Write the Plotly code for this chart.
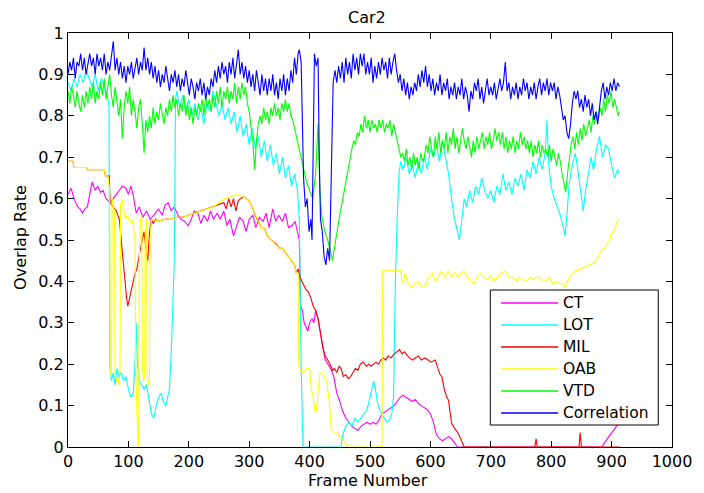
import plotly.graph_objects as go

# Tracker names and their line colours (drawing order = list order)
series_names = ["CT", "LOT", "MIL", "OAB", "VTD", "Correlation"]
series_colors = ["#ff00ff", "#00ffff", "#ff0000", "#ffff00", "#00ff00", "#0000ff"]

# (frame, overlap rate) samples per tracker
ct_points = [
    (0, 0.61), (5, 0.625), (10, 0.60), (16, 0.58), (20, 0.575), (24, 0.565), (28, 0.575), (32, 0.58),
    (36, 0.61), (40, 0.64), (45, 0.62), (49, 0.63), (54, 0.615), (58, 0.62), (63, 0.60), (70, 0.59),
    (75, 0.60), (80, 0.61), (85, 0.62), (90, 0.63), (96, 0.625), (100, 0.61), (104, 0.63), (107, 0.615),
    (110, 0.59), (113, 0.565), (118, 0.58), (124, 0.555), (130, 0.57), (136, 0.55), (142, 0.56),
    (150, 0.575), (156, 0.56), (161, 0.585), (166, 0.59), (171, 0.57), (176, 0.58), (182, 0.56),
    (187, 0.55), (193, 0.545), (199, 0.535), (204, 0.55), (209, 0.57), (215, 0.565), (220, 0.54),
    (225, 0.56), (231, 0.545), (236, 0.57), (241, 0.55), (247, 0.565), (252, 0.55), (258, 0.57),
    (263, 0.535), (268, 0.55), (274, 0.51), (279, 0.53), (284, 0.555), (290, 0.545), (295, 0.52),
    (300, 0.55), (306, 0.56), (311, 0.53), (317, 0.555), (323, 0.545), (328, 0.565), (333, 0.53),
    (339, 0.575), (344, 0.545), (349, 0.56), (355, 0.545), (360, 0.565), (365, 0.53), (371, 0.535),
    (376, 0.545), (380, 0.52), (383, 0.50), (385, 0.34), (388, 0.33), (391, 0.30), (394, 0.29),
    (397, 0.28), (400, 0.30), (404, 0.31), (407, 0.30), (410, 0.33), (414, 0.31), (418, 0.27),
    (422, 0.24), (426, 0.21), (430, 0.20), (435, 0.19), (440, 0.17), (445, 0.13), (450, 0.11),
    (455, 0.085), (460, 0.07), (465, 0.06), (470, 0.05), (475, 0.045), (480, 0.04), (485, 0.05),
    (490, 0.055), (495, 0.06), (500, 0.055), (505, 0.06), (510, 0.055), (515, 0.065), (520, 0.08),
    (525, 0.085), (530, 0.09), (535, 0.095), (540, 0.10), (545, 0.11), (550, 0.12), (555, 0.125),
    (560, 0.12), (565, 0.115), (570, 0.11), (575, 0.115), (580, 0.105), (585, 0.10), (590, 0.095),
    (595, 0.09), (600, 0.08), (605, 0.06), (610, 0.03), (615, 0.02), (620, 0.015), (625, 0.02),
    (630, 0.025), (635, 0.02), (640, 0.01), (645, 0.0), (700, 0.0), (800, 0.0), (884, 0.0),
    (888, 0.01), (893, 0.02), (898, 0.03), (903, 0.04), (908, 0.05), (913, 0.06),
]

lot_points = [
    (0, 0.88), (5, 0.86), (10, 0.89), (15, 0.87), (20, 0.90), (25, 0.88), (30, 0.91), (35, 0.89),
    (40, 0.87), (45, 0.90), (50, 0.86), (55, 0.89), (60, 0.87), (65, 0.85), (68, 0.82), (69, 0.20),
    (72, 0.16), (75, 0.18), (78, 0.15), (81, 0.19), (84, 0.17), (88, 0.18), (92, 0.16), (96, 0.17),
    (100, 0.14), (104, 0.12), (108, 0.13), (111, 0.20), (113, 0.30), (115, 0.20), (118, 0.16),
    (122, 0.15), (126, 0.14), (130, 0.15), (134, 0.11), (138, 0.08), (142, 0.07), (146, 0.10),
    (150, 0.12), (154, 0.13), (158, 0.11), (162, 0.10), (165, 0.12), (168, 0.14), (171, 0.23),
    (174, 0.35), (176, 0.45), (178, 0.84), (180, 0.86), (185, 0.82), (190, 0.85), (195, 0.81),
    (200, 0.84), (205, 0.80), (210, 0.83), (215, 0.79), (220, 0.82), (225, 0.78), (230, 0.83),
    (235, 0.81), (240, 0.86), (245, 0.83), (250, 0.80), (255, 0.83), (260, 0.79), (265, 0.82),
    (270, 0.78), (275, 0.81), (280, 0.76), (285, 0.80), (290, 0.75), (295, 0.78), (300, 0.73),
    (305, 0.77), (310, 0.72), (315, 0.75), (320, 0.70), (325, 0.74), (330, 0.69), (335, 0.73),
    (340, 0.68), (345, 0.71), (350, 0.66), (355, 0.70), (360, 0.65), (365, 0.68), (370, 0.63),
    (375, 0.66), (380, 0.62), (383, 0.55), (386, 0.20), (389, 0.0), (420, 0.0), (452, 0.0),
    (455, 0.03), (460, 0.05), (465, 0.06), (470, 0.05), (475, 0.07), (480, 0.06), (485, 0.07),
    (490, 0.08), (495, 0.09), (500, 0.12), (503, 0.14), (506, 0.16), (509, 0.14), (512, 0.11),
    (516, 0.09), (520, 0.08), (524, 0.07), (528, 0.06), (532, 0.065), (536, 0.08), (539, 0.12),
    (542, 0.40), (545, 0.55), (548, 0.66), (551, 0.69), (555, 0.67), (560, 0.70), (565, 0.66),
    (570, 0.68), (575, 0.65), (580, 0.69), (585, 0.66), (590, 0.70), (595, 0.67), (600, 0.72),
    (605, 0.70), (610, 0.73), (615, 0.69), (620, 0.74), (625, 0.70), (630, 0.66), (635, 0.60),
    (640, 0.55), (645, 0.52), (648, 0.50), (652, 0.55), (656, 0.60), (660, 0.58), (665, 0.62),
    (670, 0.59), (675, 0.63), (680, 0.61), (685, 0.65), (690, 0.62), (695, 0.60), (700, 0.62),
    (705, 0.59), (710, 0.63), (715, 0.61), (720, 0.66), (725, 0.62), (730, 0.64), (735, 0.61),
    (740, 0.65), (745, 0.63), (750, 0.66), (755, 0.62), (760, 0.67), (765, 0.65), (770, 0.69),
    (775, 0.66), (780, 0.70), (785, 0.67), (790, 0.71), (793, 0.79), (796, 0.68), (800, 0.63),
    (805, 0.60), (810, 0.58), (815, 0.56), (820, 0.53), (823, 0.51), (826, 0.56), (830, 0.64),
    (835, 0.68), (840, 0.71), (845, 0.66), (850, 0.60), (853, 0.57), (857, 0.62), (862, 0.66),
    (866, 0.70), (870, 0.67), (875, 0.72), (880, 0.75), (885, 0.70), (890, 0.73), (895, 0.72),
    (900, 0.68), (905, 0.65), (910, 0.67), (913, 0.66),
]

mil_points = [
    (0, 0.69), (8, 0.69), (10, 0.675), (30, 0.675), (32, 0.67), (60, 0.67), (62, 0.655),
    (68, 0.655), (70, 0.59), (75, 0.58), (80, 0.57), (85, 0.55), (88, 0.50), (91, 0.44), (94, 0.40),
    (97, 0.36), (99, 0.34), (102, 0.36), (105, 0.38), (108, 0.40), (111, 0.42), (114, 0.43),
    (117, 0.46), (120, 0.48), (123, 0.50), (126, 0.52), (129, 0.48), (132, 0.45), (135, 0.52),
    (138, 0.55), (141, 0.54), (145, 0.55), (150, 0.545), (160, 0.55), (170, 0.55), (180, 0.555),
    (190, 0.555), (200, 0.56), (210, 0.565), (220, 0.57), (230, 0.575), (240, 0.58), (250, 0.585),
    (258, 0.59), (262, 0.575), (266, 0.60), (270, 0.58), (274, 0.60), (278, 0.57), (282, 0.595),
    (286, 0.60), (290, 0.605), (300, 0.595), (305, 0.58), (310, 0.56), (315, 0.545), (320, 0.53),
    (325, 0.53), (330, 0.51), (340, 0.495), (345, 0.49), (350, 0.48), (355, 0.48), (360, 0.47),
    (365, 0.46), (370, 0.45), (375, 0.44), (378, 0.42), (381, 0.43), (384, 0.41), (387, 0.40),
    (390, 0.39), (394, 0.38), (398, 0.375), (402, 0.36), (406, 0.34), (410, 0.33), (414, 0.31),
    (418, 0.27), (422, 0.24), (426, 0.22), (430, 0.21), (434, 0.20), (438, 0.185), (441, 0.19),
    (445, 0.18), (449, 0.195), (452, 0.19), (456, 0.17), (460, 0.175), (464, 0.165), (468, 0.17),
    (472, 0.18), (476, 0.19), (480, 0.185), (484, 0.20), (489, 0.205), (494, 0.195), (498, 0.20),
    (502, 0.195), (506, 0.20), (510, 0.205), (514, 0.20), (518, 0.21), (522, 0.215), (526, 0.21),
    (530, 0.22), (535, 0.215), (540, 0.225), (545, 0.23), (549, 0.235), (553, 0.225), (557, 0.23),
    (562, 0.22), (566, 0.215), (570, 0.21), (575, 0.215), (580, 0.22), (585, 0.21), (591, 0.215),
    (596, 0.21), (601, 0.205), (608, 0.21), (612, 0.19), (616, 0.175), (619, 0.17), (623, 0.14),
    (627, 0.12), (630, 0.113), (633, 0.08), (635, 0.058), (640, 0.045), (646, 0.033), (650, 0.02),
    (656, 0.0), (700, 0.0), (773, 0.0), (775, 0.02), (777, 0.0), (846, 0.0), (848, 0.035),
    (850, 0.0), (913, 0.0),
]

oab_points = [
    (0, 0.69), (8, 0.69), (10, 0.675), (30, 0.675), (32, 0.67), (60, 0.67), (62, 0.655),
    (66, 0.655), (69, 0.62), (70, 0.18), (72, 0.17), (73, 0.60), (75, 0.59), (77, 0.56),
    (78, 0.18), (80, 0.16), (82, 0.17), (84, 0.15), (86, 0.18), (87, 0.58), (89, 0.60),
    (92, 0.57), (95, 0.55), (98, 0.56), (101, 0.55), (104, 0.54), (107, 0.55), (109, 0.52),
    (111, 0.50), (112, 0.20), (114, 0.085), (116, 0.0), (117, 0.0), (118, 0.45), (120, 0.55),
    (122, 0.56), (123, 0.20), (125, 0.16), (127, 0.17), (128, 0.52), (130, 0.55), (131, 0.18),
    (133, 0.15), (135, 0.16), (136, 0.50), (138, 0.55), (140, 0.55), (150, 0.545), (160, 0.55),
    (170, 0.55), (180, 0.555), (190, 0.555), (200, 0.56), (210, 0.565), (220, 0.57), (230, 0.575),
    (240, 0.58), (250, 0.59), (260, 0.60), (270, 0.605), (280, 0.61), (290, 0.605), (300, 0.595),
    (305, 0.58), (310, 0.56), (315, 0.545), (320, 0.53), (325, 0.53), (330, 0.51), (340, 0.495),
    (345, 0.49), (350, 0.48), (355, 0.48), (360, 0.47), (365, 0.46), (370, 0.45), (375, 0.44),
    (378, 0.42), (381, 0.42), (382, 0.20), (385, 0.185), (388, 0.18), (392, 0.185), (396, 0.19),
    (400, 0.19), (403, 0.14), (406, 0.12), (409, 0.085), (411, 0.085), (414, 0.13), (417, 0.18),
    (420, 0.175), (424, 0.17), (428, 0.16), (431, 0.13), (433, 0.105), (436, 0.04), (441, 0.035),
    (446, 0.033), (452, 0.02), (457, 0.015), (463, 0.0), (500, 0.0), (520, 0.0), (521, 0.427),
    (551, 0.427), (553, 0.40), (555, 0.395), (558, 0.42), (562, 0.40), (566, 0.39), (570, 0.385),
    (575, 0.395), (581, 0.40), (586, 0.385), (592, 0.39), (597, 0.41), (603, 0.42), (608, 0.40),
    (613, 0.41), (618, 0.425), (624, 0.41), (630, 0.425), (635, 0.41), (640, 0.42), (646, 0.41),
    (651, 0.42), (656, 0.425), (661, 0.41), (667, 0.40), (672, 0.395), (677, 0.41), (683, 0.42),
    (689, 0.41), (694, 0.405), (700, 0.415), (705, 0.40), (711, 0.41), (717, 0.42), (724, 0.425),
    (730, 0.41), (737, 0.41), (743, 0.40), (748, 0.41), (753, 0.405), (759, 0.40), (765, 0.41),
    (771, 0.405), (776, 0.41), (780, 0.41), (785, 0.40), (791, 0.40), (797, 0.41), (803, 0.395),
    (808, 0.40), (813, 0.395), (818, 0.395), (823, 0.385), (827, 0.40), (832, 0.415), (840, 0.425),
    (848, 0.43), (856, 0.435), (864, 0.44), (872, 0.445), (878, 0.46), (883, 0.475), (888, 0.48),
    (893, 0.49), (897, 0.50), (899, 0.515), (903, 0.52), (906, 0.53), (910, 0.547), (913, 0.55),
]

vtd_points = [
    (0, 0.86), (3, 0.83), (6, 0.87), (9, 0.85), (12, 0.82), (15, 0.86), (18, 0.83), (21, 0.81),
    (24, 0.85), (27, 0.82), (30, 0.86), (33, 0.83), (36, 0.87), (39, 0.84), (42, 0.88), (45, 0.83),
    (48, 0.86), (51, 0.84), (54, 0.88), (57, 0.85), (60, 0.89), (63, 0.84), (66, 0.87), (69, 0.90),
    (72, 0.85), (75, 0.82), (78, 0.87), (81, 0.84), (84, 0.80), (87, 0.84), (90, 0.745), (93, 0.82),
    (96, 0.86), (99, 0.83), (102, 0.87), (105, 0.80), (108, 0.84), (111, 0.81), (114, 0.77),
    (117, 0.82), (120, 0.84), (123, 0.78), (126, 0.71), (129, 0.79), (132, 0.76), (135, 0.80),
    (138, 0.77), (141, 0.82), (144, 0.78), (147, 0.81), (150, 0.79), (153, 0.83), (156, 0.80),
    (159, 0.78), (162, 0.82), (165, 0.80), (168, 0.84), (171, 0.81), (174, 0.85), (177, 0.82),
    (180, 0.84), (183, 0.80), (186, 0.83), (189, 0.81), (192, 0.85), (195, 0.80), (198, 0.83),
    (201, 0.79), (204, 0.82), (207, 0.78), (210, 0.82), (213, 0.80), (216, 0.83), (219, 0.81),
    (222, 0.84), (225, 0.80), (228, 0.85), (231, 0.82), (234, 0.84), (237, 0.81), (240, 0.85),
    (243, 0.82), (246, 0.86), (249, 0.83), (252, 0.87), (255, 0.82), (258, 0.86), (261, 0.84),
    (264, 0.87), (267, 0.83), (270, 0.86), (273, 0.84), (276, 0.88), (279, 0.83), (282, 0.87),
    (285, 0.84), (288, 0.88), (291, 0.85), (294, 0.87), (297, 0.83), (300, 0.81), (303, 0.78),
    (306, 0.74), (309, 0.67), (312, 0.74), (315, 0.78), (318, 0.80), (321, 0.78), (324, 0.82),
    (327, 0.79), (330, 0.81), (333, 0.78), (336, 0.82), (339, 0.80), (342, 0.83), (345, 0.80),
    (348, 0.82), (351, 0.79), (354, 0.83), (357, 0.81), (360, 0.84), (363, 0.81), (366, 0.83),
    (369, 0.80), (372, 0.79), (375, 0.77), (378, 0.75), (381, 0.73), (385, 0.70), (390, 0.67),
    (395, 0.64), (400, 0.62), (405, 0.60), (410, 0.66), (414, 0.78), (417, 0.62), (420, 0.56),
    (425, 0.52), (430, 0.50), (435, 0.47), (438, 0.45), (441, 0.48), (445, 0.52), (450, 0.56),
    (455, 0.60), (460, 0.64), (465, 0.69), (470, 0.72), (473, 0.74), (476, 0.73), (479, 0.76),
    (482, 0.75), (485, 0.78), (488, 0.76), (491, 0.80), (494, 0.77), (497, 0.79), (500, 0.76),
    (503, 0.79), (506, 0.77), (509, 0.78), (512, 0.76), (515, 0.79), (518, 0.77), (521, 0.79),
    (524, 0.76), (527, 0.78), (530, 0.77), (533, 0.79), (536, 0.75), (539, 0.78), (542, 0.76),
    (545, 0.74), (548, 0.72), (551, 0.70), (554, 0.71), (557, 0.69), (560, 0.72), (563, 0.68),
    (566, 0.70), (569, 0.67), (572, 0.71), (575, 0.68), (578, 0.70), (581, 0.67), (584, 0.71),
    (587, 0.69), (590, 0.70), (593, 0.73), (596, 0.71), (599, 0.75), (602, 0.72), (605, 0.70),
    (608, 0.75), (611, 0.72), (614, 0.76), (617, 0.71), (620, 0.74), (623, 0.72), (626, 0.76),
    (629, 0.71), (632, 0.75), (635, 0.73), (638, 0.77), (641, 0.72), (644, 0.75), (647, 0.71),
    (650, 0.74), (653, 0.77), (656, 0.74), (659, 0.72), (662, 0.75), (665, 0.72), (668, 0.70),
    (671, 0.74), (674, 0.71), (677, 0.75), (680, 0.72), (683, 0.74), (686, 0.76), (689, 0.72),
    (692, 0.75), (695, 0.73), (698, 0.76), (701, 0.72), (704, 0.74), (707, 0.77), (710, 0.74),
    (713, 0.76), (716, 0.73), (719, 0.76), (722, 0.72), (725, 0.75), (728, 0.71), (731, 0.74),
    (734, 0.72), (737, 0.75), (740, 0.71), (743, 0.74), (746, 0.72), (749, 0.76), (752, 0.73),
    (755, 0.75), (758, 0.72), (761, 0.74), (764, 0.71), (767, 0.74), (770, 0.70), (773, 0.73),
    (776, 0.71), (779, 0.74), (782, 0.70), (785, 0.73), (788, 0.71), (791, 0.72), (794, 0.70),
    (797, 0.73), (800, 0.69), (803, 0.72), (806, 0.70), (809, 0.68), (812, 0.71), (815, 0.69),
    (818, 0.66), (821, 0.64), (824, 0.615), (827, 0.66), (830, 0.70), (833, 0.73), (836, 0.75),
    (839, 0.72), (842, 0.76), (845, 0.73), (848, 0.77), (851, 0.74), (854, 0.78), (857, 0.75),
    (860, 0.77), (863, 0.79), (866, 0.76), (869, 0.80), (872, 0.78), (875, 0.81), (878, 0.79),
    (881, 0.82), (884, 0.80), (887, 0.84), (890, 0.81), (893, 0.85), (896, 0.83), (899, 0.86),
    (902, 0.82), (905, 0.84), (908, 0.82), (911, 0.80), (913, 0.81),
]

correlation_points = [
    (0, 0.90), (3, 0.93), (6, 0.91), (9, 0.94), (12, 0.89), (15, 0.93), (18, 0.92), (21, 0.95),
    (24, 0.91), (27, 0.94), (30, 0.90), (33, 0.93), (36, 0.95), (39, 0.92), (42, 0.94), (45, 0.90),
    (48, 0.95), (51, 0.92), (54, 0.94), (57, 0.91), (60, 0.95), (63, 0.90), (66, 0.93), (69, 0.91),
    (72, 0.94), (75, 0.98), (78, 0.91), (81, 0.94), (84, 0.90), (87, 0.93), (90, 0.89), (93, 0.92),
    (96, 0.88), (99, 0.92), (102, 0.90), (105, 0.93), (108, 0.89), (111, 0.92), (114, 0.94),
    (117, 0.90), (120, 0.93), (123, 0.91), (126, 0.965), (129, 0.91), (132, 0.94), (135, 0.90),
    (138, 0.93), (141, 0.89), (144, 0.92), (147, 0.88), (150, 0.91), (153, 0.87), (156, 0.90),
    (159, 0.88), (162, 0.92), (165, 0.89), (168, 0.86), (171, 0.90), (174, 0.88), (177, 0.91),
    (180, 0.87), (183, 0.90), (186, 0.86), (189, 0.89), (192, 0.87), (195, 0.91), (198, 0.88),
    (201, 0.85), (204, 0.89), (207, 0.87), (210, 0.84), (213, 0.88), (216, 0.86), (219, 0.89),
    (222, 0.85), (225, 0.88), (228, 0.84), (231, 0.87), (234, 0.85), (237, 0.89), (240, 0.87),
    (243, 0.91), (246, 0.88), (249, 0.92), (252, 0.89), (255, 0.93), (258, 0.90), (261, 0.92),
    (264, 0.88), (267, 0.93), (270, 0.90), (273, 0.94), (276, 0.89), (279, 0.93), (282, 0.96),
    (285, 0.90), (288, 0.93), (291, 0.89), (294, 0.92), (297, 0.88), (300, 0.91), (303, 0.87),
    (306, 0.90), (309, 0.86), (312, 0.91), (315, 0.88), (318, 0.85), (321, 0.90), (324, 0.86),
    (327, 0.89), (330, 0.85), (333, 0.89), (336, 0.86), (339, 0.90), (342, 0.85), (345, 0.88),
    (348, 0.84), (351, 0.89), (354, 0.86), (357, 0.90), (360, 0.85), (363, 0.89), (366, 0.86),
    (369, 0.91), (372, 0.88), (375, 0.94), (378, 0.90), (381, 0.95), (383, 0.96), (386, 0.93),
    (388, 0.80), (390, 0.65), (393, 0.58), (396, 0.60), (399, 0.52), (402, 0.55), (404, 0.50),
    (406, 0.75), (408, 0.95), (411, 0.92), (414, 0.94), (416, 0.70), (418, 0.55), (421, 0.52),
    (424, 0.46), (427, 0.44), (430, 0.48), (433, 0.45), (436, 0.70), (439, 0.88), (442, 0.91),
    (445, 0.88), (448, 0.92), (451, 0.89), (454, 0.93), (457, 0.88), (460, 0.94), (463, 0.90),
    (466, 0.93), (469, 0.89), (472, 0.95), (475, 0.91), (478, 0.94), (481, 0.90), (484, 0.95),
    (487, 0.92), (490, 0.95), (493, 0.90), (496, 0.93), (499, 0.90), (502, 0.94), (505, 0.88),
    (508, 0.92), (511, 0.89), (514, 0.93), (517, 0.90), (520, 0.94), (523, 0.91), (526, 0.93),
    (529, 0.89), (532, 0.94), (535, 0.90), (538, 0.93), (541, 0.95), (544, 0.91), (547, 0.88),
    (550, 0.90), (553, 0.86), (556, 0.89), (559, 0.85), (562, 0.88), (565, 0.84), (568, 0.87),
    (571, 0.85), (574, 0.88), (577, 0.86), (580, 0.90), (583, 0.87), (586, 0.91), (589, 0.88),
    (592, 0.92), (595, 0.87), (598, 0.90), (601, 0.86), (604, 0.89), (607, 0.85), (610, 0.88),
    (613, 0.86), (616, 0.90), (619, 0.85), (622, 0.88), (625, 0.86), (628, 0.89), (631, 0.84),
    (634, 0.87), (637, 0.85), (640, 0.88), (643, 0.84), (646, 0.87), (649, 0.85), (652, 0.89),
    (655, 0.84), (658, 0.87), (661, 0.85), (664, 0.81), (667, 0.86), (670, 0.84), (673, 0.88),
    (676, 0.86), (679, 0.89), (682, 0.84), (685, 0.87), (688, 0.83), (691, 0.86), (694, 0.89),
    (697, 0.85), (700, 0.87), (703, 0.85), (706, 0.88), (709, 0.84), (712, 0.87), (715, 0.89),
    (718, 0.86), (721, 0.88), (724, 0.93), (727, 0.86), (730, 0.88), (733, 0.84), (736, 0.87),
    (739, 0.85), (742, 0.88), (745, 0.84), (748, 0.87), (751, 0.85), (754, 0.89), (757, 0.86),
    (760, 0.88), (763, 0.84), (766, 0.87), (769, 0.85), (772, 0.88), (775, 0.84), (778, 0.87),
    (781, 0.89), (784, 0.85), (787, 0.88), (790, 0.86), (793, 0.89), (796, 0.85), (799, 0.88),
    (802, 0.86), (805, 0.88), (808, 0.84), (811, 0.87), (814, 0.85), (817, 0.82), (820, 0.79),
    (823, 0.80), (826, 0.76), (829, 0.745), (832, 0.78), (835, 0.83), (838, 0.86), (841, 0.84),
    (844, 0.86), (847, 0.82), (850, 0.84), (853, 0.81), (856, 0.85), (859, 0.82), (862, 0.84),
    (865, 0.80), (868, 0.83), (871, 0.79), (874, 0.81), (877, 0.78), (880, 0.83), (883, 0.86),
    (886, 0.88), (889, 0.84), (892, 0.87), (895, 0.85), (898, 0.88), (901, 0.86), (904, 0.89),
    (907, 0.86), (910, 0.88), (913, 0.87),
]

series_points = [ct_points, lot_points, mil_points, oab_points, vtd_points, correlation_points]

x_ticks = list(range(0, 1001, 100))
y_ticks = [0, 0.1, 0.2, 0.3, 0.4, 0.5, 0.6, 0.7, 0.8, 0.9, 1]
y_tick_text = ["0", "0.1", "0.2", "0.3", "0.4", "0.5", "0.6", "0.7", "0.8", "0.9", "1"]

FONT = "DejaVu Sans, Verdana, sans-serif"
W, H = 704, 493
ML, MR, MT, MB = 68, 21, 33, 46
PW, PH = W - ML - MR, H - MT - MB


def px(x):
    return (x - ML) / PW


def py(y):
    return (H - MB - y) / PH


fig = go.Figure()
for name, color, pts in zip(series_names, series_colors, series_points):
    fig.add_trace(go.Scatter(
        x=[p[0] for p in pts], y=[p[1] for p in pts],
        mode="lines", name=name, showlegend=False,
        line=dict(color=color, width=1.1),
    ))

# Boxed legend in the lower right corner
shapes = [dict(type="rect", xref="paper", yref="paper",
               x0=px(498), x1=px(669), y0=py(425), y1=py(290),
               line=dict(color="black", width=1), fillcolor="white", layer="above")]
annotations = []
for i, (name, color) in enumerate(zip(series_names, series_colors)):
    yy = py(303 + 22 * i)
    shapes.append(dict(type="line", xref="paper", yref="paper",
                       x0=px(509), x1=px(567), y0=yy, y1=yy,
                       line=dict(color=color, width=1.5), layer="above"))
    annotations.append(dict(xref="paper", yref="paper", x=px(570), y=yy,
                            xanchor="left", yanchor="middle", showarrow=False,
                            text=name, font=dict(family=FONT, size=15.5, color="black")))

annotations.append(dict(xref="paper", yref="paper", x=px(372), y=py(17),
                        xanchor="center", yanchor="middle", showarrow=False,
                        text="Car2", font=dict(family=FONT, size=16, color="black")))
annotations.append(dict(xref="paper", yref="paper", x=px(373), y=py(481),
                        xanchor="center", yanchor="middle", showarrow=False,
                        text="Frame Number", font=dict(family=FONT, size=16, color="black")))
annotations.append(dict(xref="paper", yref="paper", x=px(19), y=py(237),
                        xanchor="center", yanchor="middle", showarrow=False, textangle=-90,
                        text="Overlap Rate", font=dict(family=FONT, size=16, color="black")))

axis_common = dict(showline=True, linecolor="black", linewidth=1, mirror="ticks",
                   ticks="inside", ticklen=6, tickcolor="black", showgrid=False,
                   zeroline=False, tickfont=dict(family=FONT, size=16, color="black"))

fig.update_layout(
    width=W, height=H,
    margin=dict(l=ML, r=MR, t=MT, b=MB, pad=0),
    paper_bgcolor="white", plot_bgcolor="white",
    xaxis=dict(range=[0, 1000], tickvals=x_ticks, **axis_common),
    yaxis=dict(range=[0, 1], tickvals=y_ticks, ticktext=y_tick_text, **axis_common),
    shapes=shapes, annotations=annotations,
)

fig.write_html("out.html")
